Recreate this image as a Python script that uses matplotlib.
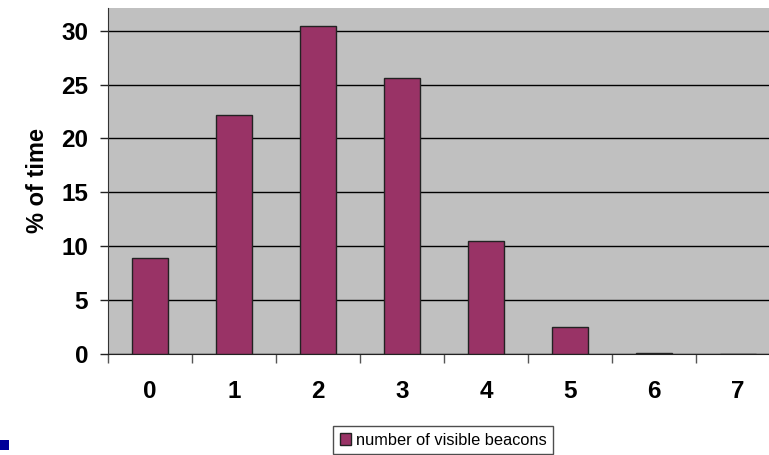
import numpy as np
import matplotlib.pyplot as plt
from matplotlib.patches import Patch, Rectangle

# Dati
categorie = ["0", "1", "2", "3", "4", "5", "6", "7"]
percentuali = [8.9, 22.2, 30.4, 25.6, 10.5, 2.5, 0.1, 0.0]
etichetta_serie = "number of visible beacons"

plt.rcParams["font.family"] = ["Liberation Sans", "DejaVu Sans"]

fig = plt.figure(figsize=(7.69, 4.55), dpi=100)
# area grafico (il bordo destro esce dalla figura, come nell'originale)
ax = fig.add_axes([0.1404, 0.222, 0.874, 0.7604])
ax.set_facecolor("#c0c0c0")

x = np.arange(len(categorie))
ax.bar(x, percentuali, width=0.43, color="#993366",
       edgecolor="#222222", linewidth=1.0, zorder=3)

ax.set_xlim(-0.5, len(categorie) - 0.5)
ax.set_ylim(0, 32.1)

# griglia orizzontale nera
ax.set_yticks(np.arange(0, 31, 5))
ax.grid(axis="y", color="black", linewidth=1.0, zorder=1)

# etichette al centro, tacche ai bordi delle categorie
ax.set_xticks(x)
ax.set_xticklabels(categorie)
ax.set_xticks(np.arange(-0.5, len(categorie), 1.0), minor=True)
ax.tick_params(axis="x", which="major", length=0, pad=19)
ax.tick_params(axis="x", which="minor", length=6.5, width=1.0, color="#555555")
ax.tick_params(axis="y", length=5.8, width=1.0, color="#222222", pad=8.5)

for lab in ax.get_xticklabels() + ax.get_yticklabels():
    lab.set_fontsize(17.5)
    lab.set_fontweight("bold")

ax.set_ylabel("% of time", fontsize=17, fontweight="bold", labelpad=9)

for s in ["top", "right"]:
    ax.spines[s].set_visible(False)
ax.spines["left"].set_color("#333333")
ax.spines["bottom"].set_color("#222222")

# legenda
fig.legend(handles=[Patch(facecolor="#993366", edgecolor="#222222",
                          label=etichetta_serie)],
           loc="upper left", bbox_to_anchor=(333 / 769, 1 - 426 / 455),
           fontsize=11.8, frameon=True, fancybox=False, edgecolor="#222222",
           handlelength=0.7, handleheight=0.7, handletextpad=0.3,
           borderpad=0.4, borderaxespad=0)

# quadratino blu in basso a sinistra
fig.patches.append(Rectangle((0, 1 - 450 / 455), 9 / 769, 10 / 455,
                             transform=fig.transFigure,
                             facecolor="#000099", edgecolor="none"))

fig.savefig("out.png", dpi=100)
